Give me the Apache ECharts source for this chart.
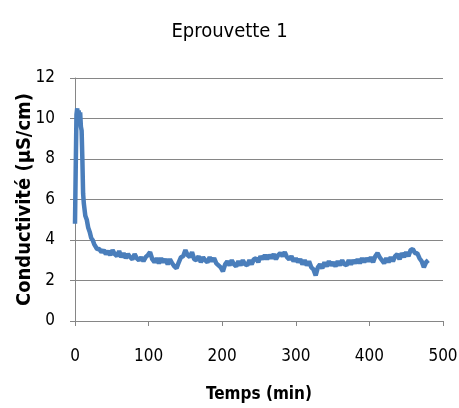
<!DOCTYPE html>
<html>
<head>
<meta charset="utf-8">
<script src="https://cdn.jsdelivr.net/npm/echarts@6/dist/echarts.min.js"></script>
<style>
  html, body { margin: 0; padding: 0; background: #fff; }
  #chart { width: 459px; height: 408px; }
</style>
</head>
<body>
<div id="chart"></div>
<script>
// temps (min)
var temps = [0, 1, 2, 3, 4, 5, 6, 7, 8, 9, 10, 11, 12, 14, 16, 18, 20, 22, 24, 26, 28, 30, 33, 36, 39, 42,
  45, 48, 51, 54, 57, 60, 63, 66, 69, 72, 75, 78, 81, 84, 87, 90, 93, 96, 99, 102, 105, 108, 111, 114,
  117, 120, 123, 126, 129, 132, 135, 138, 141, 144, 147, 150, 153, 156, 159, 162, 165, 168, 171, 174,
  177, 180, 183, 186, 189, 192, 195, 198, 201, 204, 207, 210, 213, 216, 219, 222, 225, 228, 231, 234,
  237, 240, 243, 246, 249, 252, 255, 258, 261, 264, 267, 270, 273, 276, 279, 282, 285, 288, 291, 294,
  297, 300, 303, 306, 309, 312, 315, 318, 321, 324, 327, 330, 333, 336, 339, 342, 345, 348, 351, 354,
  357, 360, 363, 366, 369, 372, 375, 378, 381, 384, 387, 390, 393, 396, 399, 402, 405, 408, 411, 414,
  417, 420, 423, 426, 429, 432, 435, 438, 441, 444, 447, 450, 453, 456, 459, 462, 465, 468, 471, 474,
  477, 480];
// conductivité (µS/cm)
var conductivite = [4.8, 7.6, 10.2, 10.5, 10.1, 10.4, 9.9, 10.3, 9.6, 9.4, 8.0, 6.3, 5.8, 5.2, 5.0, 4.6, 4.4, 4.1, 4.0, 3.8, 3.75, 3.55, 3.55, 3.4, 3.5, 3.3,
  3.45, 3.25, 3.50, 3.30, 3.20, 3.45, 3.15, 3.35, 3.10, 3.30, 3.15, 3.05, 3.30, 3.10, 3.00, 3.15, 2.95, 3.15, 3.25, 3.40, 3.05, 2.90, 3.10, 2.85,
  3.10, 2.90, 3.05, 2.80, 3.05, 2.85, 2.70, 2.60, 2.90, 3.15, 3.20, 3.50, 3.25, 3.15, 3.40, 3.05, 3.00, 3.20, 2.90, 3.15,
  3.00, 2.90, 3.15, 2.95, 3.10, 2.85, 2.75, 2.65, 2.45, 2.80, 2.95, 2.75, 3.00, 2.80, 2.70, 2.95, 2.75, 3.00, 2.80, 2.75,
  3.00, 2.80, 3.05, 3.10, 2.90, 3.20, 3.05, 3.25, 3.05, 3.25, 3.10, 3.30, 3.05, 3.25, 3.35, 3.20, 3.40, 3.15, 3.05, 3.20,
  2.95, 3.10, 2.90, 3.05, 2.80, 3.00, 2.75, 2.95, 2.65, 2.55, 2.25, 2.65, 2.80, 2.60, 2.90, 2.70, 2.95, 2.75, 2.90, 2.70,
  2.95, 2.75, 3.00, 2.80, 2.75, 3.00, 2.80, 3.00, 2.85, 3.05, 2.85, 3.10, 2.90, 3.10, 2.95, 3.15, 2.90, 3.20, 3.35, 3.15,
  3.00, 2.85, 3.10, 2.90, 3.15, 2.95, 3.20, 3.30, 3.05, 3.35, 3.15, 3.40, 3.20, 3.50, 3.55, 3.35, 3.35, 3.10, 2.95, 2.65,
  2.90, 3.00];

var font = '"DejaVu Sans Condensed", "Liberation Sans", sans-serif';
var gris = '#868686';

var points = temps.map(function (t, i) { return [t, conductivite[i]]; });

var chart = echarts.init(document.getElementById('chart'));
chart.setOption({
  animation: false,
  title: {
    text: 'Eprouvette 1',
    left: 'center',
    top: 17,
    textStyle: { fontFamily: font, fontSize: 20, fontWeight: 'normal', color: '#000' }
  },
  grid: { left: 75, right: 16, top: 78, bottom: 87, outerBoundsMode: 'none', containLabel: false },
  xAxis: {
    type: 'value',
    min: 0,
    max: 500,
    interval: 100,
    name: 'Temps (min)',
    nameLocation: 'middle',
    nameGap: 65,
    nameMoveOverlap: false,
    nameTextStyle: { fontFamily: font, fontSize: 17, fontWeight: 'bold', color: '#000' },
    axisLine: { lineStyle: { color: gris, width: 1 } },
    axisTick: { show: true, length: 5, lineStyle: { color: gris } },
    axisLabel: { fontFamily: font, fontSize: 17, color: '#000', margin: 27 },
    splitLine: { show: false }
  },
  yAxis: {
    type: 'value',
    min: 0,
    max: 12,
    interval: 2,
    name: 'Conductivité (µS/cm)',
    nameLocation: 'middle',
    nameGap: 40,
    nameMoveOverlap: false,
    nameTextStyle: { fontFamily: font, fontSize: 20, fontWeight: 'bold', color: '#000' },
    axisLine: { show: true, lineStyle: { color: gris, width: 1 } },
    axisTick: { show: true, length: 5, lineStyle: { color: gris } },
    axisLabel: { fontFamily: font, fontSize: 17, color: '#000', margin: 20 },
    splitLine: { lineStyle: { color: gris, width: 1 } }
  },
  series: [{
    type: 'line',
    data: points,
    showSymbol: false,
    lineStyle: { color: '#4a7ebb', width: 4.5 },
    itemStyle: { color: '#4a7ebb' }
  }]
});
</script>
</body>
</html>
